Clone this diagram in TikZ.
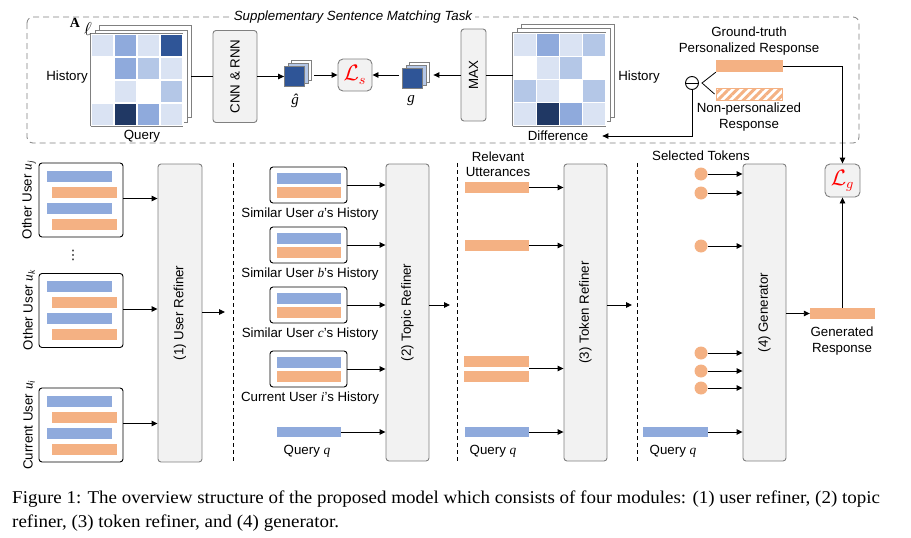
\documentclass[tikz,border=0pt]{standalone}
\usepackage{fontspec}
\setmainfont{Liberation Sans}
\newfontfamily\capfont{Liberation Serif}
\newfontfamily\dvfont{DejaVu Sans}
\usetikzlibrary{arrows.meta,patterns.meta}
\definecolor{cL}{HTML}{DAE3F3}
\definecolor{cS}{HTML}{B4C7E7}
\definecolor{cM}{HTML}{8FAADC}
\definecolor{cD}{HTML}{2F5597}
\definecolor{cX}{HTML}{203864}
\definecolor{cW}{HTML}{FFFFFF}
\definecolor{bblue}{HTML}{8FAADC}
\definecolor{borange}{HTML}{F4B183}
\definecolor{boxgray}{HTML}{F2F2F2}
\definecolor{edgegray}{HTML}{808080}
\definecolor{lred}{HTML}{FF0000}
\newcommand{\vi}[1]{{\capfont\itshape #1}}
\newcommand{\vsub}[2]{{\capfont\itshape #1\textsubscript{#2}}}
\begin{document}
\begin{tikzpicture}[x=1pt,y=-1pt, font=\fontsize{13.3}{15.5}\selectfont,
 refiner/.style={draw=edgegray, fill=boxgray, rounded corners=3pt, line width=0.9pt, inner sep=0pt},
 ubox/.style={draw=black, fill=white, rounded corners=3pt, line width=0.9pt, inner sep=0pt},
 bbar/.style={fill=bblue, inner sep=0pt, minimum height=11pt},
 obar/.style={fill=borange, inner sep=0pt, minimum height=11pt},
 tok/.style={circle, fill=borange, inner sep=0pt, minimum size=13pt},
 arr/.style={-{Triangle[length=6pt,width=5.5pt]}, line width=0.9pt},
 ln/.style={line width=0.9pt},
 lbl/.style={inner sep=0pt, align=center},
 sepline/.style={dash pattern=on 4pt off 3pt, line width=0.8pt},
 layer/.style={draw=edgegray, fill=white, line width=0.8pt, inner sep=0pt, minimum size=92pt},
 sq/.style={draw=edgegray, line width=0.8pt, inner sep=0pt, minimum size=20pt},
 captxt/.style={anchor=base west, inner sep=0pt, font=\capfont\fontsize{18}{21}\selectfont},
]
\useasboundingbox (0,0) rectangle (911,538);

% ================= top: supplementary task =================
\draw[edgegray, dash pattern=on 6pt off 4pt, line width=0.8pt, rounded corners=6pt] (27,17) rectangle (859,143);
\node[fill=white, inner sep=3pt, font=\itshape\fontsize{13.3}{15.5}\selectfont] (title) at (353,17) {Supplementary Sentence Matching Task};

% left matrix
\node[layer] (ml3) at (145,71) {};
\node[layer] (ml2) at (141,76) {};
\node[layer] (ml) at (137,80) {};
\foreach \c [count=\i from 0] in {cL,cM,cL,cD,cW,cM,cS,cL,cW,cL,cW,cS,cL,cX,cM,cL}{
  \pgfmathtruncatemacro\col{mod(\i,4)}
  \pgfmathtruncatemacro\row{\i/4}
  \fill[\c, draw=white, line width=1.2pt] (91+\col*23, 34+\row*23) rectangle ++(23,23);
}
\draw[edgegray, line width=0.8pt] (ml.south west) -- (ml.north west) -- (ml.north east);
\draw[edgegray, line width=0.8pt] (ml.south west) -- (ml.south east);
\node[lbl] (hl) at (67,77) {History};
\node[lbl] (ql) at (142,136) {Query};
\node[lbl, font=\capfont\bfseries\fontsize{14}{14}\selectfont] (amark) at (75,23) {A};
\node[lbl] (ellmark) at (88,29) {\scalebox{1.3}{$\ell$}};

% CNN & RNN
\node[refiner, minimum width=44pt, minimum height=92pt] (cnn) at (235,76.5) {\rotatebox{90}{CNN \& RNN}};
\draw[ln] (cnn.west) -- (cnn.west -| ml3.east);

% g-hat stack
\node[sq, fill=white] (gh3) at (301,70) {};
\node[sq, fill=cS] (gh2) at (298,73.5) {};
\node[sq, fill=cD] (gh) at (294.5,76.5) {};
\node[lbl, font=\fontsize{15}{15}\selectfont] (ghl) at (295,101) {\vi{ĝ}};
\draw[arr] (cnn.east) -- (gh.west);

% L_s
\node[refiner, minimum width=34pt, minimum height=32pt, rounded corners=5pt] (ls) at (355,75) {\color{lred}\scalebox{1.55}{$\mathcal{L}_s$}};
\draw[arr, shorten <=3pt] (ls.west -| gh3.east) -- (ls.west);

% g stack
\node[sq, fill=white] (g3) at (419,72) {};
\node[sq, fill=cS] (g2) at (416,75.5) {};
\node[sq, fill=cD] (g) at (412.5,78.5) {};
\node[lbl, font=\fontsize{15}{15}\selectfont] (gl) at (411,101) {\vi{g}};
\draw[arr, shorten <=3pt] (ls.east -| g.west) -- (ls.east);

% MAX
\node[refiner, minimum width=25pt, minimum height=92pt] (mx) at (473.5,75) {\rotatebox{90}{MAX}};
\draw[arr, shorten >=4pt] (mx.west) -- (mx.west -| g3.east);

% difference matrix
\node[layer, minimum size=93pt] (md3) at (567.5,70.5) {};
\node[layer, minimum size=93pt] (md2) at (563.5,74.5) {};
\node[layer, minimum size=93pt] (md) at (559.5,79.5) {};
\foreach \c [count=\i from 0] in {cL,cM,cL,cS,cW,cL,cS,cW,cS,cL,cW,cS,cL,cX,cM,cL}{
  \pgfmathtruncatemacro\col{mod(\i,4)}
  \pgfmathtruncatemacro\row{\i/4}
  \fill[\c, draw=white, line width=1.2pt] (513+\col*23.25, 33+\row*23.25) rectangle ++(23.25,23.25);
}
\draw[edgegray, line width=0.8pt] (md.south west) -- (md.north west) -- (md.north east);
\draw[edgegray, line width=0.8pt] (md.south west) -- (md.south east);
\draw[ln] (mx.east) -- (mx.east -| md.west);
\node[lbl] (hr) at (639,77) {History};
\node[lbl] (diff) at (558,136) {Difference};

% responses
\node[obar, minimum width=67pt, minimum height=12pt] (gt) at (749.5,66) {};
\node[inner sep=0pt, minimum width=66pt, minimum height=12pt, draw=borange, line width=0.9pt,
      pattern={Lines[angle=45,distance=6pt,line width=3pt]}, pattern color=borange] (np) at (749,94) {};
\node[lbl] (gtl) at (749,41) {Ground-truth\\Personalized Response};
\node[lbl] (npl) at (749,117) {Non-personalized\\Response};
\node[circle, draw, line width=0.9pt, minimum size=13pt, inner sep=0pt] (om) at (692,83) {};
\draw[line width=0.9pt] (om.west) -- (om.east);
\coordinate (fork) at (702,83);
\draw[line width=0.8pt] (gt.south west) -- (fork) -- (np.west);
\draw[arr] (om.south) |- ([xshift=14pt]diff.east);

% ================= bottom modules =================
\draw[sepline] (233,163) -- (233,462);
\draw[sepline] (457,163) -- (457,462);
\draw[sepline] (637,163) -- (637,462);

% refiners
\node[refiner, minimum width=44pt, minimum height=298pt] (ur) at (180,313) {\rotatebox{90}{(1) User Refiner}};
\node[refiner, minimum width=43pt, minimum height=297pt] (tr) at (407.5,312.5) {\rotatebox{90}{(2) Topic Refiner}};
\node[refiner, minimum width=43pt, minimum height=297pt] (kr) at (585.5,312.5) {\rotatebox{90}{(3) Token Refiner}};
\node[refiner, minimum width=43pt, minimum height=297pt] (gen) at (764.5,312.5) {\rotatebox{90}{(4) Generator}};

% module 1
\foreach \n/\cy in {1/200,2/310.5,3/425}{
  \node[ubox, minimum width=84pt, minimum height=74pt] (ub\n) at (81,\cy) {};
  \node[bbar, minimum width=65pt] (ub\n-b1) at (79.5,\cy-24) {};
  \node[obar, minimum width=65pt] (ub\n-o1) at (84.5,\cy-8) {};
  \node[bbar, minimum width=65pt] (ub\n-b2) at (79.5,\cy+8) {};
  \node[obar, minimum width=65pt] (ub\n-o2) at (84.5,\cy+24) {};
  \draw[arr] ([yshift=1.5pt]ub\n.east) -- ([yshift=1.5pt]ub\n.east -| ur.west);
}
\node[lbl, rotate=90] (lu1) at (29,200) {Other User \vsub{u}{j}};
\node[lbl, rotate=90] (lu2) at (29,310) {Other User \vsub{u}{k}};
\node[lbl, rotate=90] (lu3) at (29,425) {Current User \vsub{u}{i}};
\node[lbl, font=\dvfont\fontsize{13}{13}\selectfont] (vd) at (73,255) {⋮};
\coordinate (o1) at (225,312);
\draw[arr] (ur.east |- o1) -- (o1);

% module 2
\foreach \n/\cy/\who in {a/185/{Similar User \vi{a}'s History},b/245/{Similar User \vi{b}'s History},c/305/{Similar User \vi{c}'s History},i/369/{Current User \vi{i}'s History}}{
  \node[ubox, minimum width=77pt, minimum height=36pt] (hb\n) at (308.5,\cy) {};
  \node[bbar, minimum width=64pt] (hb\n-b) at (309,\cy-7) {};
  \node[obar, minimum width=64pt] (hb\n-o) at (309,\cy+7.5) {};
  \node[lbl] (hb\n-l) at (310,\cy+29.5) {\who};
  \draw[arr] (hb\n.east) -- (hb\n.east -| tr.west);
}
\node[bbar, minimum width=64pt, minimum height=10pt] (q2) at (309,432) {};
\node[lbl] (q2l) at (307,451) {Query \vi{q}};
\draw[arr] (q2.east) -- (q2.east -| tr.west);
\coordinate (o2) at (450,305);
\draw[arr] (tr.east |- o2) -- (o2);

% module 3
\node[lbl] (rul) at (498,164) {Relevant\\Utterances};
\node[obar, minimum width=64pt] (r1) at (497,187.5) {};
\node[obar, minimum width=64pt] (r2) at (497,245.5) {};
\node[obar, minimum width=65pt] (r3) at (496.5,361.5) {};
\node[obar, minimum width=65pt] (r4) at (496.5,376.5) {};
\node[bbar, minimum width=64pt, minimum height=10pt] (q3) at (497,432) {};
\node[lbl] (q3l) at (493,451) {Query \vi{q}};
\coordinate (r34) at (529,368.5);
\draw[arr] (r1.east) -- (r1.east -| kr.west);
\draw[arr] (r2.east) -- (r2.east -| kr.west);
\draw[arr] (r34) -- (r34 -| kr.west);
\draw[arr] (q3.east) -- (q3.east -| kr.west);
\coordinate (o3) at (632,305);
\draw[arr] (kr.east |- o3) -- (o3);

% module 4
\node[lbl] (stl) at (701,156) {Selected Tokens};
\foreach \n/\cy in {1/174,2/193,3/246,4/353,5/371,6/388}{
  \node[tok] (t\n) at (701,\cy) {};
  \draw[arr] (t\n.east) -- (t\n.east -| gen.west);
}
\node[bbar, minimum width=65pt, minimum height=10pt] (q4) at (675.5,432) {};
\node[lbl] (q4l) at (673,451) {Query \vi{q}};
\draw[arr] (q4.east) -- (q4.east -| gen.west);

\node[obar, minimum width=65pt] (gr) at (842.5,313.5) {};
\node[lbl] (grl) at (842,341) {Generated\\Response};
\draw[arr] (gen.east |- gr.west) -- (gr.west);
\node[refiner, minimum width=35pt, minimum height=33pt, rounded corners=5pt] (lg) at (842.5,180.5) {\color{lred}\scalebox{1.55}{$\mathcal{L}_g$}};
\draw[arr] (gr.north) -- (lg.south);
\draw[arr] (gt.east) -- (gt.east -| lg.north) -- (lg.north);

% caption
\node[captxt] (cap1) at (12,503) {\scalebox{1.055}[1]{Figure 1: The overview structure of the proposed model which consists of four modules: (1) user refiner, (2) topic}};
\node[captxt] (cap2) at (12,527) {\scalebox{1.055}[1]{refiner, (3) token refiner, and (4) generator.}};
\end{tikzpicture}
\end{document}
